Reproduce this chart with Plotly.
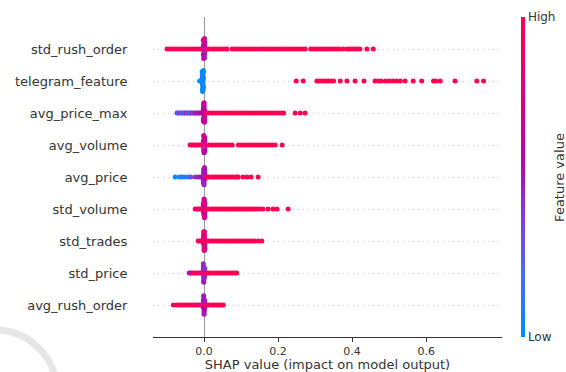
import numpy as np
import plotly.graph_objects as go

# Feature names, bottom row first (y = 0 .. 8)
features = ["avg_rush_order", "std_price", "std_trades", "std_volume", "avg_price",
            "avg_volume", "avg_price_max", "telegram_feature", "std_rush_order"]

# ---------- std_rush_order ----------
std_rush_order_core_shap = [-0.002, 0.001, -0.001, 0.002, 0.000, -0.002, 0.001, -0.001, 0.002, 0.000,
                            -0.001, 0.001, -0.002, 0.002, 0.000, -0.001, 0.001, -0.002, 0.002, 0.000, -0.001, 0.001]
std_rush_order_core_feat = [0.6, 0.7, 0.5, 0.65, 0.3, 0.7, 0.55, 0.45, 0.75, 0.6,
                            0.25, 0.65, 0.7, 0.5, 0.6, 0.8, 0.55, 0.65, 0.35, 0.7, 0.6, 0.75]
std_rush_order_tail_shap = [-0.100, -0.093, -0.086, -0.079, -0.072, -0.065, -0.058, -0.051, -0.044, -0.037,
                            -0.030, -0.023, -0.016, -0.009, 0.008, 0.015, 0.022, 0.029, 0.036, 0.043,
                            0.050, 0.057, 0.062, 0.076, 0.083, 0.090, 0.097, 0.104, 0.111, 0.118,
                            0.125, 0.132, 0.139, 0.146, 0.153, 0.160, 0.167, 0.174, 0.181, 0.188,
                            0.195, 0.202, 0.209, 0.216, 0.223, 0.230, 0.237, 0.244, 0.251, 0.258,
                            0.265, 0.273, 0.288, 0.295, 0.302, 0.309, 0.316, 0.323, 0.330, 0.337,
                            0.344, 0.351, 0.358, 0.365, 0.375, 0.386, 0.393, 0.400, 0.407, 0.414,
                            0.421, 0.440, 0.457]
std_rush_order_tail_feat = [0.95, 1.0, 0.95, 1.0, 1.0, 0.95, 1.0, 1.0, 0.95, 1.0,
                            1.0, 0.95, 1.0, 0.9, 0.9, 1.0, 0.95, 1.0, 1.0, 0.95,
                            1.0, 1.0, 0.95, 1.0, 1.0, 1.0, 0.95, 1.0, 1.0, 1.0,
                            1.0, 1.0, 1.0, 0.95, 1.0, 1.0, 1.0, 1.0, 1.0, 1.0,
                            1.0, 1.0, 0.95, 1.0, 1.0, 1.0, 1.0, 1.0, 1.0, 1.0,
                            1.0, 1.0, 1.0, 1.0, 1.0, 1.0, 0.95, 1.0, 1.0, 1.0,
                            1.0, 1.0, 1.0, 1.0, 1.0, 1.0, 1.0, 1.0, 1.0, 1.0,
                            1.0, 1.0, 1.0]

# ---------- telegram_feature ----------
telegram_core_shap = [-0.005, -0.003, -0.004, -0.002, -0.003, -0.005, -0.004, -0.002, -0.003, -0.004,
                      -0.012, -0.003, -0.005, -0.002, -0.004, -0.003, -0.002, -0.004, -0.005, -0.003, -0.002, -0.004]
telegram_core_feat = [0.0, 0.05, 0.0, 0.1, 0.0, 0.05, 0.0, 0.0, 0.1, 0.05,
                      0.0, 0.0, 0.05, 0.0, 0.1, 0.0, 0.05, 0.0, 0.0, 0.05, 0.0, 0.0]
telegram_tail_shap = [0.249, 0.268, 0.305, 0.312, 0.320, 0.328, 0.335, 0.342, 0.350, 0.368,
                      0.386, 0.408, 0.432, 0.462, 0.470, 0.478, 0.490, 0.500, 0.510, 0.520,
                      0.530, 0.543, 0.565, 0.588, 0.620, 0.626, 0.638, 0.678, 0.737, 0.755]
telegram_tail_feat = [1.0, 1.0, 1.0, 1.0, 1.0, 1.0, 1.0, 1.0, 1.0, 1.0,
                      1.0, 1.0, 1.0, 1.0, 1.0, 1.0, 1.0, 1.0, 1.0, 1.0,
                      1.0, 1.0, 1.0, 1.0, 1.0, 1.0, 1.0, 1.0, 1.0, 1.0]

# ---------- avg_price_max ----------
avg_price_max_core_shap = [0.001, -0.002, 0.000, 0.002, -0.001, 0.001, -0.002, 0.000, 0.002, -0.001,
                           0.001, 0.000, -0.002, 0.002, -0.001, 0.001, 0.000, -0.002, 0.002, -0.001, 0.001, 0.000]
avg_price_max_core_feat = [0.65, 0.6, 0.7, 0.55, 0.75, 0.6, 0.5, 0.7, 0.65, 0.6,
                           0.7, 0.55, 0.65, 0.75, 0.6, 0.7, 0.5, 0.65, 0.6, 0.7, 0.65, 0.6]
avg_price_max_tail_shap = [-0.073, -0.069, -0.065, -0.060, -0.056, -0.052, -0.048, -0.044, -0.040, -0.036,
                           -0.032, -0.028, -0.024, -0.020, -0.016, -0.012, -0.008,
                           0.006, 0.013, 0.020, 0.027, 0.034, 0.041, 0.048, 0.055, 0.062, 0.069,
                           0.076, 0.083, 0.090, 0.097, 0.104, 0.111, 0.118, 0.125, 0.132, 0.139,
                           0.146, 0.153, 0.160, 0.167, 0.174, 0.181, 0.188, 0.195, 0.202, 0.209,
                           0.215, 0.246, 0.260, 0.273]
avg_price_max_tail_feat = [0.4, 0.1, 0.45, 0.15, 0.4, 0.1, 0.5, 0.2, 0.45, 0.15,
                           0.5, 0.3, 0.55, 0.45, 0.6, 0.5, 0.6,
                           0.9, 0.95, 1.0, 0.95, 1.0, 1.0, 0.95, 1.0, 1.0, 1.0,
                           1.0, 1.0, 1.0, 1.0, 1.0, 1.0, 1.0, 1.0, 1.0, 1.0,
                           1.0, 1.0, 1.0, 1.0, 1.0, 1.0, 1.0, 1.0, 1.0, 1.0,
                           1.0, 1.0, 1.0, 1.0]

# ---------- avg_volume ----------
avg_volume_core_shap = [-0.001, 0.002, 0.000, -0.002, 0.001, -0.001, 0.002, 0.000, -0.002, 0.001,
                        -0.001, 0.002, 0.000, -0.002, 0.001, -0.001, 0.002, 0.000, -0.002, 0.001, 0.000, -0.001]
avg_volume_core_feat = [0.65, 0.7, 0.6, 0.75, 0.2, 0.65, 0.7, 0.6, 0.7, 0.65,
                        0.75, 0.6, 0.7, 0.15, 0.65, 0.7, 0.6, 0.75, 0.65, 0.7, 0.6, 0.65]
avg_volume_tail_shap = [-0.038, -0.033, -0.028, -0.023, -0.018, -0.013, -0.008,
                        0.006, 0.013, 0.020, 0.027, 0.034, 0.041, 0.048, 0.055, 0.062, 0.069,
                        0.076, 0.093, 0.100, 0.107, 0.114, 0.121, 0.128, 0.135, 0.142, 0.149,
                        0.156, 0.163, 0.170, 0.177, 0.184, 0.192, 0.211]
avg_volume_tail_feat = [0.95, 0.95, 1.0, 0.95, 0.9, 0.95, 0.9,
                        0.9, 0.95, 1.0, 1.0, 1.0, 0.95, 1.0, 1.0, 1.0, 1.0,
                        1.0, 1.0, 1.0, 1.0, 1.0, 1.0, 1.0, 1.0, 1.0, 1.0,
                        1.0, 1.0, 1.0, 1.0, 1.0, 1.0, 1.0]

# ---------- avg_price ----------
avg_price_core_shap = [0.000, -0.002, 0.001, 0.002, -0.001, 0.000, 0.002, -0.002, 0.001, -0.001,
                       0.000, 0.002, -0.002, 0.001, -0.001, 0.000, 0.002, -0.002, 0.001, -0.001, 0.000, 0.001]
avg_price_core_feat = [0.5, 0.45, 0.55, 0.4, 0.1, 0.5, 0.45, 0.55, 0.5, 0.4,
                       0.45, 0.5, 0.55, 0.45, 0.5, 0.35, 0.5, 0.45, 0.55, 0.5, 0.45, 0.5]
avg_price_tail_shap = [-0.078, -0.066, -0.060, -0.053, -0.043, -0.036, -0.024, -0.016, -0.010,
                       0.005, 0.011, 0.017, 0.023, 0.029, 0.035, 0.041, 0.047, 0.053, 0.059,
                       0.065, 0.071, 0.077, 0.083, 0.089, 0.092, 0.105, 0.116, 0.127, 0.146]
avg_price_tail_feat = [0.0, 0.05, 0.1, 0.05, 0.15, 0.3, 0.4, 0.45, 0.5,
                       0.9, 0.95, 1.0, 1.0, 0.95, 1.0, 1.0, 1.0, 1.0, 1.0,
                       1.0, 1.0, 1.0, 1.0, 1.0, 1.0, 1.0, 1.0, 1.0, 1.0]

# ---------- std_volume ----------
std_volume_core_shap = [0.001, -0.001, 0.002, 0.000, -0.002, 0.001, -0.001, 0.002, 0.000, -0.002,
                        0.001, -0.001, 0.002, 0.000, -0.002, 0.001, -0.001, 0.002, 0.000, -0.002, 0.001, 0.000]
std_volume_core_feat = [0.7, 0.75, 0.65, 0.7, 0.75, 0.7, 0.65, 0.75, 0.7, 0.7,
                        0.65, 0.75, 0.7, 0.65, 0.7, 0.75, 0.7, 0.65, 0.7, 0.75, 0.7, 0.7]
std_volume_tail_shap = [-0.024, -0.019, -0.014, -0.009,
                        0.005, 0.011, 0.017, 0.023, 0.029, 0.035, 0.041, 0.047, 0.053, 0.059,
                        0.065, 0.071, 0.077, 0.083, 0.089, 0.095, 0.101, 0.107, 0.113, 0.119,
                        0.125, 0.131, 0.137, 0.143, 0.150, 0.159, 0.173, 0.186, 0.197, 0.227]
std_volume_tail_feat = [0.95, 0.9, 0.95, 0.9,
                        0.9, 0.95, 1.0, 0.95, 1.0, 1.0, 1.0, 1.0, 1.0, 1.0,
                        1.0, 1.0, 1.0, 1.0, 1.0, 1.0, 1.0, 1.0, 1.0, 1.0,
                        1.0, 1.0, 1.0, 1.0, 1.0, 1.0, 1.0, 1.0, 1.0, 1.0]

# ---------- std_trades ----------
std_trades_core_shap = [0.000, 0.002, -0.001, 0.001, -0.002, 0.000, 0.002, -0.001, 0.001, -0.002,
                        0.000, 0.002, -0.001, 0.001, -0.002, 0.000, 0.002, -0.001, 0.001, -0.002, 0.000, 0.001]
std_trades_core_feat = [0.75, 0.8, 0.7, 0.85, 0.75, 0.8, 0.1, 0.75, 0.8, 0.7,
                        0.75, 0.85, 0.8, 0.75, 0.7, 0.8, 0.75, 0.8, 0.85, 0.75, 0.7, 0.8]
std_trades_tail_shap = [-0.016, -0.011, -0.006,
                        0.005, 0.011, 0.017, 0.023, 0.029, 0.035, 0.041, 0.047, 0.053, 0.059,
                        0.065, 0.071, 0.077, 0.083, 0.089, 0.095, 0.101, 0.107, 0.113, 0.119,
                        0.125, 0.131, 0.137, 0.146, 0.156]
std_trades_tail_feat = [0.95, 0.9, 0.95,
                        0.95, 1.0, 1.0, 0.95, 1.0, 1.0, 1.0, 1.0, 1.0, 1.0,
                        1.0, 1.0, 1.0, 1.0, 1.0, 1.0, 1.0, 1.0, 1.0, 1.0,
                        1.0, 1.0, 1.0, 1.0, 1.0]

# ---------- std_price ----------
std_price_core_shap = [-0.001, 0.001, 0.000, -0.002, 0.002, -0.001, 0.001, 0.000, -0.002, 0.002,
                       -0.001, 0.001, 0.000, -0.002, 0.002, -0.001, 0.001, 0.000, -0.002, 0.002, -0.001, 0.001]
std_price_core_feat = [0.45, 0.4, 0.5, 0.35, 0.45, 0.3, 0.5, 0.4, 0.45, 0.2,
                       0.5, 0.4, 0.45, 0.35, 0.5, 0.45, 0.4, 0.5, 0.45, 0.4, 0.5, 0.45]
std_price_tail_shap = [-0.040, -0.036, -0.031, -0.026, -0.021, -0.016, -0.011, -0.006,
                       0.005, 0.011, 0.017, 0.023, 0.029, 0.035, 0.041, 0.047, 0.053, 0.059,
                       0.065, 0.071, 0.077, 0.083, 0.088]
std_price_tail_feat = [0.5, 0.6, 0.8, 0.9, 0.95, 0.9, 0.9, 0.85,
                       0.9, 0.95, 1.0, 1.0, 1.0, 1.0, 1.0, 1.0, 1.0, 1.0,
                       1.0, 1.0, 1.0, 1.0, 1.0]

# ---------- avg_rush_order ----------
avg_rush_order_core_shap = [0.001, 0.000, -0.001, 0.002, -0.002, 0.001, 0.000, -0.001, 0.002, -0.002,
                            0.001, 0.000, -0.001, 0.002, -0.002, 0.001, 0.000, -0.001, 0.002, -0.002, 0.001, 0.000]
avg_rush_order_core_feat = [0.5, 0.55, 0.45, 0.5, 0.55, 0.4, 0.5, 0.55, 0.5, 0.45,
                            0.55, 0.5, 0.45, 0.55, 0.5, 0.4, 0.55, 0.5, 0.45, 0.5, 0.55, 0.5]
avg_rush_order_tail_shap = [-0.083, -0.073, -0.067, -0.061, -0.055, -0.049, -0.043, -0.037, -0.031, -0.025,
                            -0.019, -0.013, -0.007,
                            0.005, 0.011, 0.017, 0.023, 0.029, 0.035, 0.041, 0.047, 0.052]
avg_rush_order_tail_feat = [1.0, 1.0, 0.95, 1.0, 1.0, 0.95, 1.0, 1.0, 0.9, 1.0,
                            0.85, 0.9, 0.8,
                            0.9, 0.95, 1.0, 1.0, 1.0, 1.0, 1.0, 1.0, 1.0]

x_tick_vals = [0.0, 0.2, 0.4, 0.6]
x_tick_text = ["0.0", "0.2", "0.4", "0.6"]

rows = [
    (avg_rush_order_core_shap + avg_rush_order_tail_shap, avg_rush_order_core_feat + avg_rush_order_tail_feat),
    (std_price_core_shap + std_price_tail_shap, std_price_core_feat + std_price_tail_feat),
    (std_trades_core_shap + std_trades_tail_shap, std_trades_core_feat + std_trades_tail_feat),
    (std_volume_core_shap + std_volume_tail_shap, std_volume_core_feat + std_volume_tail_feat),
    (avg_price_core_shap + avg_price_tail_shap, avg_price_core_feat + avg_price_tail_feat),
    (avg_volume_core_shap + avg_volume_tail_shap, avg_volume_core_feat + avg_volume_tail_feat),
    (avg_price_max_core_shap + avg_price_max_tail_shap, avg_price_max_core_feat + avg_price_max_tail_feat),
    (telegram_core_shap + telegram_tail_shap, telegram_core_feat + telegram_tail_feat),
    (std_rush_order_core_shap + std_rush_order_tail_shap, std_rush_order_core_feat + std_rush_order_tail_feat),
]


def beeswarm_offsets(shaps, nbins=100, row_height=0.4):
    s = np.asarray(shaps, dtype=float)
    quant = np.round(nbins * (s - s.min()) / (s.max() - s.min() + 1e-8))
    inds = np.argsort(quant, kind="stable")
    ys = np.zeros(len(s))
    layer, last = 0, None
    for ind in inds:
        if quant[ind] != last:
            layer = 0
        ys[ind] = np.ceil(layer / 2) * ((layer % 2) * 2 - 1)
        layer += 1
        last = quant[ind]
    ys *= 0.9 * (row_height / np.max(ys + 1))
    return ys


colorscale = [[0.0, "#008bfb"], [0.2, "#4a6cf0"], [0.4, "#8a35d0"], [0.5, "#a317b8"],
              [0.6, "#c0009e"], [0.8, "#e40078"], [1.0, "#ff0052"]]

fig = go.Figure()
for i, (sv, fv) in enumerate(rows):
    assert len(sv) == len(fv), features[i]
    offs = beeswarm_offsets(sv)
    fig.add_trace(go.Scatter(
        x=sv, y=i + offs, mode="markers",
        marker=dict(size=5, color=fv, coloraxis="coloraxis", line=dict(width=0)),
        hoverinfo="skip", showlegend=False))

fig.update_layout(
    width=566, height=372,
    margin=dict(l=153, r=64, t=17, b=35, autoexpand=False),
    plot_bgcolor="white", paper_bgcolor="white",
    font=dict(family="DejaVu Sans", color="#333333"),
    coloraxis=dict(
        cmin=0, cmax=1, colorscale=colorscale,
        colorbar=dict(
            x=1.054, xanchor="left", xpad=0, y=0.5, yanchor="middle", ypad=0,
            len=1.0, lenmode="fraction", thickness=4, outlinewidth=0,
            ticks="", tickvals=[0, 1], ticktext=["Low", "High"],
            tickfont=dict(size=12, color="#333333", family="DejaVu Sans"),
        ),
    ),
    xaxis=dict(
        range=[-0.138, 0.805], tickvals=x_tick_vals, ticktext=x_tick_text,
        ticks="outside", ticklen=4, tickwidth=1, tickcolor="#333333",
        showline=True, linecolor="#333333", linewidth=1, automargin=False,
        showgrid=False, zeroline=True, zerolinecolor="#999999", zerolinewidth=1,
        tickfont=dict(size=11, color="#333333"),
        title=dict(text="SHAP value (impact on model output)", font=dict(size=13, color="#333333"), standoff=4),
    ),
    yaxis=dict(
        range=[-1, 9], tickvals=list(range(len(features))), ticktext=features,
        ticks="outside", ticklen=22, tickcolor="rgba(0,0,0,0)", automargin=False,
        showgrid=True, gridcolor="#cccccc", gridwidth=1, griddash="1px,4px",
        zeroline=False, showline=False,
        tickfont=dict(size=13, color="#333333"),
    ),
    shapes=[dict(type="circle", xref="paper", yref="paper",
                 x0=-0.63, x1=-0.275, y0=-0.366, y1=0.022,
                 line=dict(color="#e6e6e6", width=7), layer="below")],
    annotations=[dict(text="Feature value", x=1.163, y=0.5, xref="paper", yref="paper",
                      textangle=-90, showarrow=False, xanchor="center", yanchor="middle",
                      font=dict(size=13, color="#333333"))],
)

fig.write_html("out.html", config={"displayModeBar": False},
               post_script="document.body.style.margin='0px';")
